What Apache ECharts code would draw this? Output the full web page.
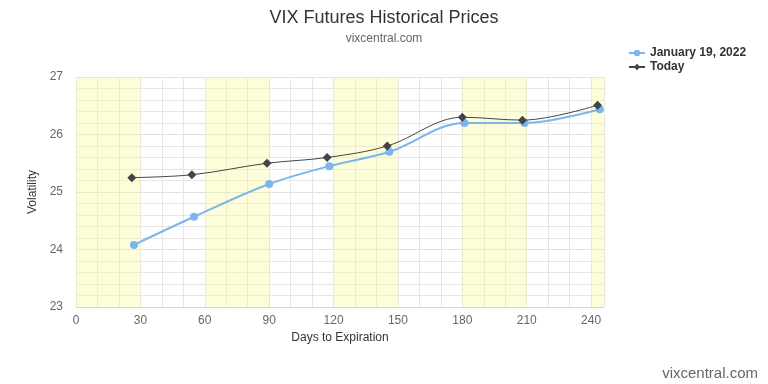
<!DOCTYPE html>
<html>
<head>
<meta charset="utf-8">
<script src="https://cdn.jsdelivr.net/npm/echarts@6/dist/echarts.min.js"></script>
<style>html,body{margin:0;padding:0;background:#fff}#c{width:768px;height:384px}</style>
</head>
<body>
<div id="c"></div>
<script>
const seriesNames = ['January 19, 2022', 'Today'];
const daysJan = [27, 55, 90, 118, 146, 181, 209, 244];
const valuesJan = [24.08, 24.57, 25.14, 25.45, 25.70, 26.20, 26.20, 26.44];
const daysToday = [26, 54, 89, 117, 145, 180, 208, 243];
const valuesToday = [25.25, 25.30, 25.50, 25.60, 25.80, 26.30, 26.25, 26.51];
const bandStarts = [0, 60, 120, 180, 240];
const bandEnds = [30, 90, 150, 210, 246];
const xLabelStep = 30;

const FONT = '"Liberation Sans", Arial, sans-serif';
const chart = echarts.init(document.getElementById('c'));
chart.setOption({
  animation: false,
  textStyle: { fontFamily: FONT },
  title: {
    text: 'VIX Futures Historical Prices',
    subtext: 'vixcentral.com',
    left: 'center',
    top: 4,
    itemGap: 6,
    textStyle: { fontFamily: FONT, fontSize: 18, fontWeight: 'normal', color: '#333' },
    subtextStyle: { fontFamily: FONT, fontSize: 12, color: '#666' }
  },
  legend: {
    orient: 'vertical',
    left: 623,
    top: 42,
    itemGap: 2,
    itemWidth: 16,
    itemHeight: 8,
    textStyle: { fontFamily: FONT, fontSize: 12, fontWeight: 'bold', color: '#333' },
    data: seriesNames
  },
  grid: { left: 76, right: 164, top: 77, bottom: 77, containLabel: false },
  xAxis: {
    type: 'value',
    min: 0,
    max: 246,
    interval: 10,
    name: 'Days to Expiration',
    nameLocation: 'middle',
    nameGap: 23,
    nameTextStyle: { fontFamily: FONT, fontSize: 12, color: '#333' },
    axisLine: { show: true, lineStyle: { color: '#ccd6eb' } },
    axisTick: { show: false },
    axisLabel: {
      fontFamily: FONT, fontSize: 12, color: '#666', margin: 8,
      showMaxLabel: false,
      formatter: v => (v % xLabelStep === 0 ? String(v) : '')
    },
    splitLine: { show: true, lineStyle: { color: '#e6e6e6', width: 1 } }
  },
  yAxis: {
    type: 'value',
    min: 23,
    max: 27,
    interval: 1,
    name: 'Volatility',
    nameLocation: 'middle',
    nameGap: 35,
    nameTextStyle: { fontFamily: FONT, fontSize: 12, color: '#333' },
    axisLine: { show: false },
    axisTick: { show: false },
    axisLabel: { fontFamily: FONT, fontSize: 12, color: '#666', margin: 13 },
    splitLine: { show: true, lineStyle: { color: '#e0e0e0' } },
    minorTick: { show: false, splitNumber: 5 },
    minorSplitLine: { show: true, lineStyle: { color: '#e6e6e6' } }
  },
  series: [
    {
      name: seriesNames[0],
      type: 'line',
      smooth: 0.35,
      data: daysJan.map((d, i) => [d, valuesJan[i]]),
      symbol: 'circle',
      symbolSize: 8,
      lineStyle: { color: '#7cb5ec', width: 2 },
      itemStyle: { color: '#7cb5ec' },
      z: 3,
      markArea: {
        silent: true,
        itemStyle: { color: 'rgba(248,248,150,0.35)' },
        data: bandStarts.map((s, i) => [{ xAxis: s }, { xAxis: bandEnds[i] }])
      }
    },
    {
      name: seriesNames[1],
      type: 'line',
      smooth: 0.35,
      data: daysToday.map((d, i) => [d, valuesToday[i]]),
      symbol: 'diamond',
      symbolSize: 9,
      lineStyle: { color: '#434348', width: 1 },
      itemStyle: { color: '#434348' },
      z: 4
    }
  ],
  graphic: [{
    type: 'text',
    right: 10,
    top: 366,
    style: { text: 'vixcentral.com', font: '15px ' + FONT, fill: '#666' }
  }]
});
</script>
</body>
</html>
